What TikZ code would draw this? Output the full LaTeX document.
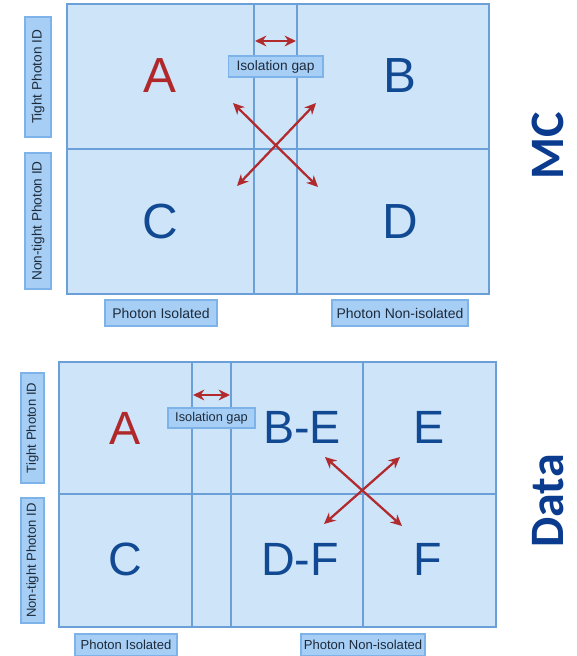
\documentclass[tikz,border=0pt]{standalone}
\usepackage{fontspec}
\setmainfont{Liberation Sans}
\newfontfamily\calfont{Carlito}
\usetikzlibrary{arrows.meta}
\definecolor{regfill}{HTML}{CEE4F9}
\definecolor{regline}{HTML}{6A9FD8}
\definecolor{lblfill}{HTML}{A7CFF5}
\definecolor{lblline}{HTML}{7DB3E8}
\definecolor{lbltext}{HTML}{1E2A3A}
\definecolor{letred}{HTML}{B0282A}
\definecolor{letblue}{HTML}{114A93}
\definecolor{titleblue}{HTML}{0B3B8F}
\definecolor{arrred}{HTML}{B02A2E}
\begin{document}
\begin{tikzpicture}[x=0.75pt,y=-0.75pt,
  grid/.style={draw=regline,line width=1.6pt},
  region/.style={grid,fill=regfill},
  lbl/.style={draw=lblline,fill=lblfill,line width=1pt,inner sep=0pt,text=lbltext},
  letr/.style={anchor=base,text=letred,font=\fontsize{#1}{#1}\selectfont},
  letb/.style={anchor=base,text=letblue,font=\fontsize{#1}{#1}\selectfont},
  ttl/.style={text=titleblue,font=\calfont\bfseries\fontsize{36}{36}\selectfont,rotate=90,inner sep=0pt},
  darr/.style={draw=arrred,line width=1.7pt,{Stealth[length=8.5pt,width=8pt]}-{Stealth[length=8.5pt,width=8pt]}}
]
\useasboundingbox (0,0) rectangle (577,656);

% ---------- MC ----------
\draw[region] (67,4) rectangle (489,294);
\draw[grid] (67,149) -- (489,149);
\draw[grid] (254,4) -- (254,294);
\draw[grid] (297,4) -- (297,294);

\node[letr=37] (mA) at (160,93) {A};
\node[letb=37] (mB) at (400,93) {B};
\node[letb=37] (mC) at (160,238) {C};
\node[letb=37] (mD) at (400,238) {D};

\node[lbl,rotate=90,minimum width=90pt,minimum height=19.5pt,font=\fontsize{10.2}{12}\selectfont] (mT) at (38,77) {Tight Photon ID};
\node[lbl,rotate=90,minimum width=102pt,minimum height=19.5pt,font=\fontsize{10.2}{12}\selectfont] (mN) at (38,221) {Non-tight Photon ID};
\node[lbl,minimum width=84pt,minimum height=19.5pt,font=\fontsize{10.5}{12}\selectfont] (mI) at (161,313) {Photon Isolated};
\node[lbl,minimum width=102pt,minimum height=19.5pt,font=\fontsize{10.5}{12}\selectfont] (mNI) at (400,313) {Photon Non-isolated};
\node[lbl,minimum width=71pt,minimum height=15.75pt,font=\fontsize{10.3}{12}\selectfont] (mG) at (275.5,66.5) {Isolation gap};

\coordinate (mg1) at (255,41);
\coordinate (mg2) at (296,41);
\draw[darr] (mg1) -- (mg2);
\coordinate (mx1) at (237,186);
\coordinate (mx2) at (316,103);
\coordinate (mx3) at (233,103);
\coordinate (mx4) at (318,187);
\draw[darr] (mx1) -- (mx2);
\draw[darr] (mx3) -- (mx4);

\node[ttl] (mc) at (548,146) {MC};

% ---------- Data ----------
\draw[region] (59,362) rectangle (496,627);
\draw[grid] (59,494) -- (496,494);
\draw[grid] (192,362) -- (192,627);
\draw[grid] (231,362) -- (231,627);
\draw[grid] (363,362) -- (363,627);

\node[letr=35] (dA) at (125,444) {A};
\node[letb=35] (dBE) at (302,443) {B-E};
\node[letb=35] (dE) at (429,443) {E};
\node[letb=35] (dC) at (125,575) {C};
\node[letb=35] (dDF) at (300,575) {D-F};
\node[letb=35] (dF) at (428,575) {F};

\node[lbl,rotate=90,minimum width=82.5pt,minimum height=17.25pt,font=\fontsize{9.8}{12}\selectfont] (dT) at (32.5,428) {Tight Photon ID};
\node[lbl,rotate=90,minimum width=93.75pt,minimum height=17.25pt,font=\fontsize{9.8}{12}\selectfont] (dN) at (32.5,560.5) {Non-tight Photon ID};
\node[lbl,minimum width=76.5pt,minimum height=16.5pt,font=\fontsize{9.8}{12}\selectfont] (dI) at (126,645) {Photon Isolated};
\node[lbl,minimum width=93pt,minimum height=16.5pt,font=\fontsize{9.8}{12}\selectfont] (dNI) at (363,645) {Photon Non-isolated};
\node[lbl,minimum width=65.25pt,minimum height=15pt,font=\fontsize{9.6}{12}\selectfont] (dG) at (211.5,418) {Isolation gap};

\coordinate (dg1) at (193,395);
\coordinate (dg2) at (230,395);
\draw[darr] (dg1) -- (dg2);
\coordinate (dx1) at (325,457);
\coordinate (dx2) at (402,526);
\coordinate (dx3) at (324,524);
\coordinate (dx4) at (400,457);
\draw[darr] (dx1) -- (dx2);
\draw[darr] (dx3) -- (dx4);

\node[ttl] (data) at (548,501) {Data};
\end{tikzpicture}
\end{document}
